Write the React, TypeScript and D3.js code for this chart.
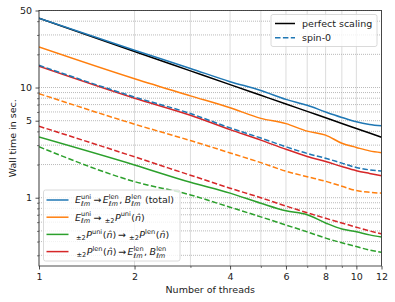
import React, { useRef, useEffect } from 'react';
import * as d3 from 'd3';

// thread counts on the x axis
const threads = [1, 2, 3, 4, 5, 6, 7, 8, 9, 10, 11, 12];

// wall times in seconds, full spin-2 runs (solid)
const perfectScaling = [42.5, 21.25, 14.17, 10.63, 8.5, 7.08, 6.07, 5.31, 4.72, 4.25, 3.86, 3.54];
const totalFull = [42.5, 21.8, 14.9, 11.3, 9.4, 7.8, 6.9, 6.0, 5.35, 4.88, 4.62, 4.49];
const uniToPFull = [23.3, 12.0, 8.4, 6.55, 5.25, 4.7, 4.02, 3.7, 3.12, 2.86, 2.66, 2.56];
const pUniToLenFull = [3.55, 1.98, 1.38, 1.1, 0.89, 0.76, 0.7, 0.59, 0.52, 0.49, 0.46, 0.44];
const pLenToEBFull = [15.6, 8.0, 5.6, 4.15, 3.33, 2.75, 2.37, 2.13, 1.92, 1.76, 1.66, 1.58];

// spin-0 runs (dashed)
const totalSpin0 = [15.9, 8.2, 5.8, 4.3, 3.48, 2.9, 2.52, 2.28, 2.06, 1.88, 1.79, 1.75];
const uniToPSpin0 = [8.8, 4.65, 3.3, 2.55, 2.08, 1.74, 1.55, 1.41, 1.27, 1.16, 1.12, 1.1];
const pUniToLenSpin0 = [2.9, 1.4, 1.06, 0.82, 0.67, 0.565, 0.49, 0.43, 0.39, 0.36, 0.335, 0.32];
const pLenToEBSpin0 = [4.45, 2.35, 1.6, 1.22, 1.0, 0.84, 0.73, 0.65, 0.59, 0.54, 0.5, 0.47];

const xTickLabels = [1, 2, 4, 6, 8, 10, 12];
const xMinorTicks = [3, 5, 7, 9];
const yTickLabels = [1, 5, 10, 50];
const yGridValues = [0.3, 0.4, 0.5, 0.6, 0.7, 0.8, 0.9, 1, 2, 3, 4, 5, 6, 7, 8, 9, 10, 20, 30, 40, 50];

const C_BLUE = '#1f77b4';
const C_ORANGE = '#ff7f0e';
const C_GREEN = '#2ca02c';
const C_RED = '#d62728';

const FONT = 'DejaVu Sans';

type Op =
  | { k: 'n'; s: string }
  | { k: 'i'; s: string }
  | { k: 'ss'; sup: string; sub: string }
  | { k: 'sup'; s: string }
  | { k: 'sub'; s: string }
  | { k: 'g'; w: number };

const Elm: Op[] = [{ k: 'i', s: 'E' }, { k: 'ss', sup: 'uni', sub: 'ℓm' }];
const Elen: Op[] = [{ k: 'i', s: 'E' }, { k: 'ss', sup: 'len', sub: 'ℓm' }];
const Blen: Op[] = [{ k: 'i', s: 'B' }, { k: 'ss', sup: 'len', sub: 'ℓm' }];
const arrow: Op[] = [{ k: 'g', w: 1.5 }, { k: 'n', s: '→' }, { k: 'g', w: 1.5 }];
const comma: Op[] = [{ k: 'n', s: ',' }, { k: 'g', w: 2.5 }];
const Puni: Op[] = [{ k: 'sub', s: '±2' }, { k: 'i', s: 'P' }, { k: 'sup', s: 'uni' }, { k: 'n', s: '(' }, { k: 'i', s: 'n\u0302' }, { k: 'n', s: ')' }];
const Plen: Op[] = [{ k: 'sub', s: '±2' }, { k: 'i', s: 'P' }, { k: 'sup', s: 'len' }, { k: 'n', s: '(' }, { k: 'i', s: 'n\u0302' }, { k: 'n', s: ')' }];

const legendMain = [
  { color: C_BLUE, ops: [...Elm, ...arrow, ...Elen, ...comma, ...Blen, { k: 'g', w: 3 }, { k: 'n', s: '(total)' }] as Op[] },
  { color: C_ORANGE, ops: [...Elm, ...arrow, { k: 'g', w: 2 }, ...Puni] as Op[] },
  { color: C_GREEN, ops: [{ k: 'g', w: 1 }, ...Puni, ...arrow, { k: 'g', w: 2 }, ...Plen] as Op[] },
  { color: C_RED, ops: [{ k: 'g', w: 1.5 }, ...Plen, ...arrow, ...Elen, ...comma, ...Blen] as Op[] },
];

const ScalingChart = () => {
  const ref = useRef<SVGSVGElement>(null);

  useEffect(() => {
    const width = 395;
    const height = 302;
    const left = 39, right = 381.5, top = 10.5, bottom = 266;

    const svg = d3.select(ref.current);
    svg.selectAll('*').remove();

    const x = d3.scaleLog().domain([1, 12]).range([left, right]);
    const y = d3.scaleLog().domain([0.24, 50]).range([bottom, top]);

    svg.append('defs').append('clipPath').attr('id', 'plotclip')
      .append('rect').attr('x', left).attr('y', top).attr('width', right - left).attr('height', bottom - top);

    // grid
    const grid = svg.append('g').attr('stroke', '#a8a8a8').attr('stroke-width', 0.8).attr('stroke-dasharray', '1,1');
    grid.selectAll('.gx').data([...threads.filter(t => t !== 11)]).join('line')
      .attr('x1', d => x(d)).attr('x2', d => x(d)).attr('y1', top).attr('y2', bottom);
    grid.selectAll('.gy').data(yGridValues).join('line')
      .attr('x1', left).attr('x2', right).attr('y1', d => y(d)).attr('y2', d => y(d));

    const series = [
      { v: perfectScaling, c: '#000', dash: null },
      { v: totalFull, c: C_BLUE, dash: null },
      { v: uniToPFull, c: C_ORANGE, dash: null },
      { v: pUniToLenFull, c: C_GREEN, dash: null },
      { v: pLenToEBFull, c: C_RED, dash: null },
      { v: totalSpin0, c: C_BLUE, dash: '5.5,2.4' },
      { v: uniToPSpin0, c: C_ORANGE, dash: '5.5,2.4' },
      { v: pUniToLenSpin0, c: C_GREEN, dash: '5.5,2.4' },
      { v: pLenToEBSpin0, c: C_RED, dash: '5.5,2.4' },
    ];

    const line = d3.line<number>()
      .x((_, i) => x(threads[i]))
      .y(d => y(d))
      .curve(d3.curveMonotoneX);

    svg.append('g').attr('clip-path', 'url(#plotclip)')
      .selectAll('path').data(series).join('path')
      .attr('d', d => line(d.v))
      .attr('fill', 'none')
      .attr('stroke', d => d.c)
      .attr('stroke-width', 1.5)
      .attr('stroke-dasharray', d => d.dash);

    // axes
    svg.append('g')
      .attr('transform', `translate(0,${bottom})`)
      .call(d3.axisBottom(x).tickValues(xTickLabels).tickFormat(d => String(d)).tickSize(3.5).tickPadding(3.5))
      .call(g => {
        g.select('.domain').remove();
        g.selectAll('text').attr('font-family', FONT).attr('font-size', 9.5).attr('fill', '#222');
        g.selectAll('line').attr('stroke', '#222').attr('stroke-width', 0.8);
      });
    svg.append('g')
      .attr('transform', `translate(0,${bottom})`)
      .call(d3.axisBottom(x).tickValues(xMinorTicks).tickFormat(() => '').tickSize(2))
      .call(g => {
        g.select('.domain').remove();
        g.selectAll('line').attr('stroke', '#222').attr('stroke-width', 0.6);
      });

    svg.append('g')
      .attr('transform', `translate(${left},0)`)
      .call(d3.axisLeft(y).tickValues(yTickLabels).tickFormat(d => String(d)).tickSize(3.5).tickPadding(3.5))
      .call(g => {
        g.select('.domain').remove();
        g.selectAll('text').attr('font-family', FONT).attr('font-size', 9.5).attr('fill', '#222');
        g.selectAll('line').attr('stroke', '#222').attr('stroke-width', 0.8);
      });
    svg.append('g')
      .attr('transform', `translate(${left},0)`)
      .call(d3.axisLeft(y).tickValues(yGridValues.filter(v => !yTickLabels.includes(v))).tickFormat(() => '').tickSize(2))
      .call(g => {
        g.select('.domain').remove();
        g.selectAll('line').attr('stroke', '#222').attr('stroke-width', 0.6);
      });

    svg.append('rect')
      .attr('x', left).attr('y', top).attr('width', right - left).attr('height', bottom - top)
      .attr('fill', 'none').attr('stroke', '#222').attr('stroke-width', 0.8);

    svg.append('text')
      .attr('x', (left + right) / 2).attr('y', 293)
      .attr('text-anchor', 'middle').attr('font-family', FONT).attr('font-size', 9.5).attr('fill', '#222')
      .text('Number of threads');
    svg.append('text')
      .attr('transform', `translate(16,${(top + bottom) / 2}) rotate(-90)`)
      .attr('text-anchor', 'middle').attr('font-family', FONT).attr('font-size', 9.5).attr('fill', '#222')
      .text('Wall time in sec.');

    // upper-right legend
    const lg1 = svg.append('g');
    lg1.append('rect').attr('x', 271).attr('y', 14.5).attr('width', 106).attr('height', 32)
      .attr('rx', 2).attr('fill', 'white').attr('fill-opacity', 0.8).attr('stroke', '#d0d0d0').attr('stroke-width', 0.8);
    const legendTop = [
      { label: 'perfect scaling', c: '#000', dash: null as string | null },
      { label: 'spin-0', c: C_BLUE, dash: '5.5,2.4' },
    ];
    legendTop.forEach((d, i) => {
      const yy = 23.5 + i * 14.3;
      lg1.append('line').attr('x1', 275).attr('x2', 295).attr('y1', yy).attr('y2', yy)
        .attr('stroke', d.c).attr('stroke-width', 1.5).attr('stroke-dasharray', d.dash);
      lg1.append('text').attr('x', 302).attr('y', yy + 3.4)
        .attr('font-family', FONT).attr('font-size', 9.5).attr('fill', '#222').text(d.label);
    });

    // lower-left legend with math labels
    const lg2 = svg.append('g');
    lg2.append('rect').attr('x', 43.5).attr('y', 190).attr('width', 136.5).attr('height', 71)
      .attr('rx', 2).attr('fill', 'white').attr('fill-opacity', 0.8).attr('stroke', '#d0d0d0').attr('stroke-width', 0.8);

    const mainSize = 9.5;
    const scriptSize = 6.6;
    legendMain.forEach((entry, i) => {
      const yy = 200 + i * 17.2;
      lg2.append('line').attr('x1', 46.5).attr('x2', 68.5).attr('y1', yy).attr('y2', yy)
        .attr('stroke', entry.color).attr('stroke-width', 1.5);
      let cx = 75;
      const base = yy + 3.4;
      const put = (s: string, size: number, dy: number, italic: boolean) => {
        const t = lg2.append('text').attr('x', cx).attr('y', base + dy)
          .attr('font-family', FONT).attr('font-size', size).attr('fill', '#222')
          .attr('font-style', italic ? 'italic' : 'normal').text(s);
        return (t.node() as SVGTextElement).getComputedTextLength();
      };
      entry.ops.forEach(op => {
        if (op.k === 'n') cx += put(op.s, mainSize, 0, false);
        else if (op.k === 'i') cx += put(op.s, mainSize, 0, true);
        else if (op.k === 'sup') cx += put(op.s, scriptSize, -4.2, false) + 0.5;
        else if (op.k === 'sub') cx += put(op.s, scriptSize, 2.2, false) + 0.5;
        else if (op.k === 'g') cx += op.w;
        else if (op.k === 'ss') {
          const w1 = put(op.sup, scriptSize, -4.2, false);
          const w2 = put(op.sub, scriptSize, 2.6, true);
          cx += Math.max(w1, w2) + 0.5;
        }
      });
    });
  }, []);

  return <svg ref={ref} width={395} height={302} style={{ position: 'absolute', left: 0, top: 0 }} />;
};

export default function App() {
  return <ScalingChart />;
}
